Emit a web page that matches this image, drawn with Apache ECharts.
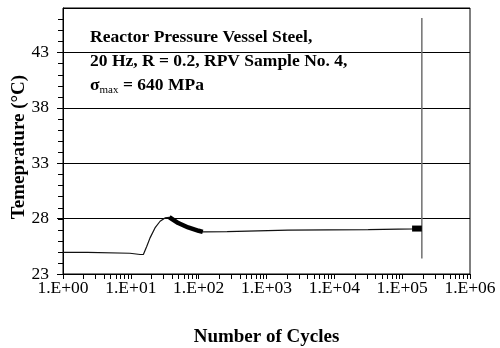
<!DOCTYPE html>
<html>
<head>
<meta charset="utf-8">
<script src="https://cdn.jsdelivr.net/npm/echarts@6/dist/echarts.min.js"></script>
<style>
  html, body { margin: 0; padding: 0; background: #fff; overflow: hidden; }
  #chart { width: 500px; height: 348px; }
</style>
</head>
<body>
<div id="chart"></div>
<script>
// Specimen surface temperature during a fatigue test (cycles on a log axis)
const cycles = [1, 2.3, 2.4, 9.7, 13.7, 15.3, 17.2, 19.2, 22.7, 27, 31.9, 37, 50, 70, 100, 115, 263, 2080, 31600, 145000, 195000];
const temperature = [24.96, 24.96, 24.87, 24.87, 24.76, 24.76, 25.5, 26.26, 27.16, 27.76, 28.06, 28.12, 27.6, 27.2, 26.9, 26.8, 26.83, 26.95, 27.0, 27.07, 27.1];

// densely logged stretch after the heating peak
const denseCycles = [37, 50, 70, 100, 115];
const denseTemps = [28.12, 27.6, 27.2, 26.9, 26.8];

// densely logged block just before failure
const finalCycles = [140000, 195000];
const finalTemps = [27.1, 27.1];

// temperature excursion at fracture
const failureCycles = [195000, 195000];
const failureTemps = [46.1, 24.4];

// axis tick labels
const xTickLabels = ['1.E+00', '1.E+01', '1.E+02', '1.E+03', '1.E+04', '1.E+05', '1.E+06'];
const yTickLabels = ['23', '28', '33', '38', '43'];

const Y_MIN = 23, Y_MAX = 47;
const X_MIN = 1;

// minor ticks of the log axis: 2..9 in every decade
const xMinorTicks = [];
for (let d = 0; d < 6; d++) {
  for (let k = 2; k <= 9; k++) xMinorTicks.push(k * Math.pow(10, d));
}
// unit minor ticks of the temperature axis
const yMinorTicks = [];
for (let t = Y_MIN + 1; t < Y_MAX; t++) yMinorTicks.push(t);

const FONT = 'Liberation Serif';
const NOTE_FONT = 'bold 17.5px "Liberation Serif"';
const zip = (xs, ys) => xs.map((x, i) => [x, ys[i]]);

// short outward tick mark drawn through the axis scales
function tickItem(dx, dy) {
  return (params, api) => {
    const p = api.coord([api.value(0), api.value(1)]);
    const x = dx ? p[0] : Math.round(p[0]) + 0.5;
    const y = dy ? p[1] : Math.round(p[1]) + 0.5;
    return {
      type: 'line',
      shape: { x1: x, y1: y, x2: x + dx, y2: y + dy },
      style: { stroke: '#000', lineWidth: 1 }
    };
  };
}

const chart = echarts.init(document.getElementById('chart'), null, { renderer: 'canvas' });

chart.setOption({
  animation: false,
  backgroundColor: '#fff',
  grid: {
    left: 63, right: 30, top: 8, bottom: 74,
    outerBoundsMode: 'none',
    show: true, borderColor: '#000', borderWidth: 1, backgroundColor: 'transparent'
  },
  xAxis: {
    type: 'log',
    logBase: 10,
    min: X_MIN,
    max: 1e6,
    name: 'Number of Cycles',
    nameLocation: 'middle',
    nameGap: 54,
    nameMoveOverlap: false,
    nameTextStyle: { fontFamily: FONT, fontSize: 19, fontWeight: 'bold', color: '#000' },
    axisLine: { show: true, lineStyle: { color: '#000', width: 1 } },
    axisTick: { show: true, inside: false, length: 5, lineStyle: { color: '#000' } },
    axisLabel: {
      fontFamily: FONT, fontSize: 17.5, color: '#000', margin: 5,
      formatter: v => xTickLabels[Math.round(Math.log10(v))]
    },
    splitLine: { show: false },
    minorTick: { show: false }
  },
  yAxis: {
    type: 'value',
    min: Y_MIN,
    max: Y_MAX,
    interval: 5,
    position: 'left',
    name: 'Temeprature (°C)',
    nameLocation: 'middle',
    nameGap: 34,
    nameMoveOverlap: false,
    nameRotate: 90,
    nameTextStyle: { fontFamily: FONT, fontSize: 19, fontWeight: 'bold', color: '#000', padding: [0, 12, 0, 0] },
    axisLine: { show: true, lineStyle: { color: '#000', width: 1 } },
    axisTick: { show: true, length: 6, lineStyle: { color: '#000' } },
    axisLabel: {
      fontFamily: FONT, fontSize: 17.5, color: '#000', margin: 14,
      showMaxLabel: false,
      formatter: v => {
        const i = Math.round((v - Y_MIN) / 5);
        return Math.abs(v - (Y_MIN + i * 5)) < 1e-6 ? (yTickLabels[i] || '') : '';
      }
    },
    splitLine: { show: true, lineStyle: { color: '#000', width: 1 } }
  },
  graphic: [
    {
      // keep the right margin beside the plot clean
      type: 'rect', silent: true, z: 1000, zlevel: 5,
      shape: { x: 472, y: 0, width: 28, height: 272 },
      style: { fill: '#fff' }
    },
    {
      type: 'text', x: 90, y: 37.5, silent: true,
      style: { text: 'Reactor Pressure Vessel Steel,', font: NOTE_FONT, fill: '#000', verticalAlign: 'middle' }
    },
    {
      type: 'text', x: 90, y: 61.6, silent: true,
      style: { text: '20 Hz, R = 0.2, RPV Sample No. 4,', font: NOTE_FONT, fill: '#000', verticalAlign: 'middle' }
    },
    {
      type: 'text', x: 90, y: 85.6, silent: true,
      style: { text: 'σ', font: NOTE_FONT, fill: '#000', verticalAlign: 'middle' }
    },
    {
      type: 'text', x: 99.5, y: 90.6, silent: true,
      style: { text: 'max', font: '11px "Liberation Serif"', fill: '#000', verticalAlign: 'middle' }
    },
    {
      type: 'text', x: 123, y: 85.6, silent: true,
      style: { text: '= 640 MPa', font: NOTE_FONT, fill: '#000', verticalAlign: 'middle' }
    }
  ],
  series: [
    {
      name: 'Temperature',
      type: 'line',
      data: zip(cycles, temperature),
      showSymbol: false,
      symbol: 'none',
      lineStyle: { color: '#111', width: 1.2 },
      z: 3
    },
    {
      name: 'Dense record',
      type: 'line',
      data: zip(denseCycles, denseTemps),
      symbol: 'none',
      lineStyle: { color: '#000', width: 4.5 },
      z: 4
    },
    {
      name: 'Final record',
      type: 'line',
      data: zip(finalCycles, finalTemps),
      symbol: 'none',
      lineStyle: { color: '#000', width: 6, cap: 'butt' },
      z: 4
    },
    {
      name: 'Failure',
      type: 'line',
      data: zip(failureCycles, failureTemps),
      symbol: 'none',
      lineStyle: { color: '#707070', width: 1.5 },
      z: 3
    },
    {
      // log-axis minor ticks 2..9 in each decade
      name: 'xMinor',
      type: 'custom',
      silent: true,
      clip: false,
      data: xMinorTicks.map(v => [v, Y_MIN]),
      renderItem: tickItem(0, 5),
      z: 5
    },
    {
      // unit minor ticks on the temperature axis
      name: 'yMinor',
      type: 'custom',
      silent: true,
      clip: false,
      data: yMinorTicks.map(t => [X_MIN, t]),
      renderItem: tickItem(-5, 0),
      z: 5
    }
  ]
});
</script>
</body>
</html>
